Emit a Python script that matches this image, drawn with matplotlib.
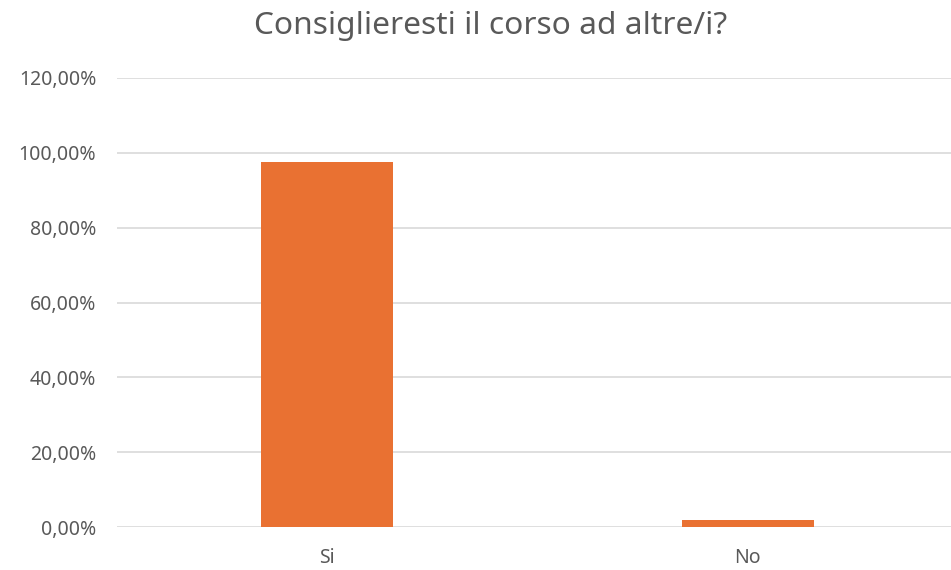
import matplotlib
matplotlib.use("Agg")
import matplotlib.pyplot as plt

categories = ["Si", "No"]
values = [97.5, 1.8]
yticks = [0, 20, 40, 60, 80, 100, 120]
ytick_labels = ["0,00%", "20,00%", "40,00%", "60,00%", "80,00%", "100,00%", "120,00%"]
title = "Consiglieresti il corso ad altre/i?"

plt.rcParams['font.family'] = ['Noto Sans', 'DejaVu Sans']

W, H = 951, 570
fig = plt.figure(figsize=(W/100, H/100), dpi=100)
ax = fig.add_axes([117/W, (H-527)/H, (951-117)/W, (527-78)/H])

x = list(range(len(categories)))
ax.bar(x, values, width=0.314, color="#E97132", zorder=3)
ax.set_xlim(-0.5, -0.5 + 2 * 834/841)
ax.set_ylim(0, 120)
ax.set_yticks(yticks)
ax.set_yticklabels(ytick_labels)
ax.set_xticks(x)
ax.set_xticklabels(categories)
ax.grid(axis='y', color="#D9D9D9", linewidth=1.2, zorder=0)
for s in ax.spines.values():
    s.set_visible(False)
ax.tick_params(axis='both', length=0, colors="#595959", labelsize=14)
ax.tick_params(axis='y', pad=15)
ax.tick_params(axis='x', pad=15)
fig.text(491/W, 1 - 26/H, title, ha='center', va='center', fontsize=22.8, color="#595959")

fig.savefig("out.png", dpi=100)
